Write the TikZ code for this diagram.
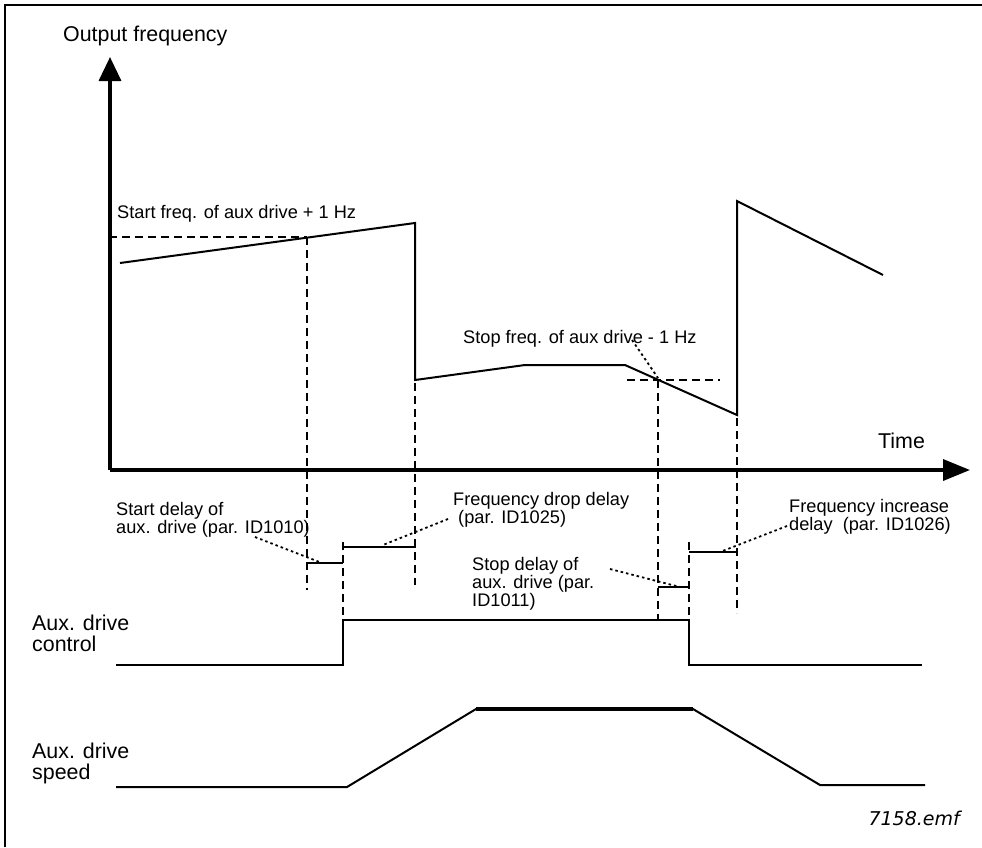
\documentclass[tikz,border=0pt]{standalone}
\usepackage{fontspec}
\setmainfont{Liberation Sans}
\newfontfamily\emffont{DejaVu Sans}
\usetikzlibrary{arrows.meta}
\begin{document}
\begin{tikzpicture}[x=1pt,y=-1pt,
  big/.style={font=\fontsize{21.4}{21}\selectfont, inner sep=0, anchor=base west, align=left},
  small/.style={font=\fontsize{18.2}{16.5}\selectfont, inner sep=0, anchor=base west, align=left},
  curve/.style={line width=2pt, line join=miter},
  dashline/.style={line width=2.4pt, dash pattern=on 8pt off 5pt},
  leader/.style={line width=1.8pt, dash pattern=on 2.5pt off 3pt},
  delaybar/.style={line width=2.5pt},
  axis/.style={line width=3.5pt},
  sig/.style={line width=2.5pt},
]
\useasboundingbox (0,0) rectangle (982,847);
\draw[line width=2pt] (5,847) -- (5,5) -- (982,5);

% axes
\coordinate (O) at (110,470);
\coordinate (ytip) at (110,57);
\coordinate (xtip) at (970,470);
\draw[axis, -{Triangle[length=24pt,width=22pt]}] (O) -- (ytip);
\draw[axis, -{Triangle[length=27pt,width=21pt]}] (O) -- (xtip);

% output frequency curve
\draw[curve] (120,263) -- (415,223) -- (415,380) -- (525,365) -- (625,365) -- (737,415) -- (737,201) -- (883,275);

% dashed guides
\draw[dashline] (109,237) -- (307,237);
\draw[dashline] (307,237) -- (307,590);
\draw[dashline] (415,383) -- (415,585);
\draw[dashline] (627,380) -- (720,380);
\draw[dashline] (658,380) -- (658,620);
\draw[dashline] (737,418) -- (737,613);
\draw[dashline] (343,542) -- (343,620);
\draw[dashline] (689,542) -- (689,620);

% delay bars
\draw[delaybar] (307,563) -- (343,563);
\draw[delaybar] (343,547) -- (416,547);
\draw[delaybar] (658,587) -- (689,587);
\draw[delaybar] (689,552) -- (737,552);

% aux drive control
\draw[sig] (116,665) -- (343,665) -- (343,620) -- (689,620) -- (689,665) -- (922,665);

% aux drive speed
\draw[curve] (116,787) -- (347,787) -- (476,709) -- (693,709) -- (820,785) -- (925,785);
\draw[line width=3.5pt] (476,709) -- (693,709);

% labels (multi-line nodes: base = baseline of last line)
\node[big] (of) at (63,41) {Output frequency};
\node[big] (time) at (878,448) {Time};
\node[small] (sf) at (117,218) {Start freq. of aux drive + 1 Hz};
\node[small] (stf) at (463,343) {Stop freq. of aux drive - 1 Hz};
\node[small] (sd) at (116,533) {Start delay of\\aux. drive (par. ID1010)};
\node[small] (fd) at (453,523) {Frequency drop delay\\\hspace*{5pt}(par. ID1025)};
\node[small] (std) at (472,606) {Stop delay of\\aux. drive (par.\\ID1011)};
\node[small] (fi) at (789,530) {Frequency increase\\delay\ \ (par. ID1026)};
\node[big] (adc) at (32,651) {Aux. drive\\control};
\node[big] (ads) at (32,779) {Aux. drive\\speed};
\node[font=\emffont\itshape\fontsize{19}{19}\selectfont, inner sep=0, anchor=base east] (emf) at (960,825) {7158.emf};

% leaders
\coordinate (l1a) at (255,537); \coordinate (l1b) at (322,563);
\coordinate (l2a) at (448,519); \coordinate (l2b) at (383,545);
\coordinate (l3a) at (632,340); \coordinate (l3b) at (658,378);
\coordinate (l4a) at (610,569); \coordinate (l4b) at (680,587);
\coordinate (l5a) at (787,526); \coordinate (l5b) at (720,552);
\draw[leader] (l1a) -- (l1b);
\draw[leader] (l2a) -- (l2b);
\draw[leader] (l3a) -- (l3b);
\draw[leader] (l4a) -- (l4b);
\draw[leader] (l5a) -- (l5b);
\end{tikzpicture}
\end{document}
